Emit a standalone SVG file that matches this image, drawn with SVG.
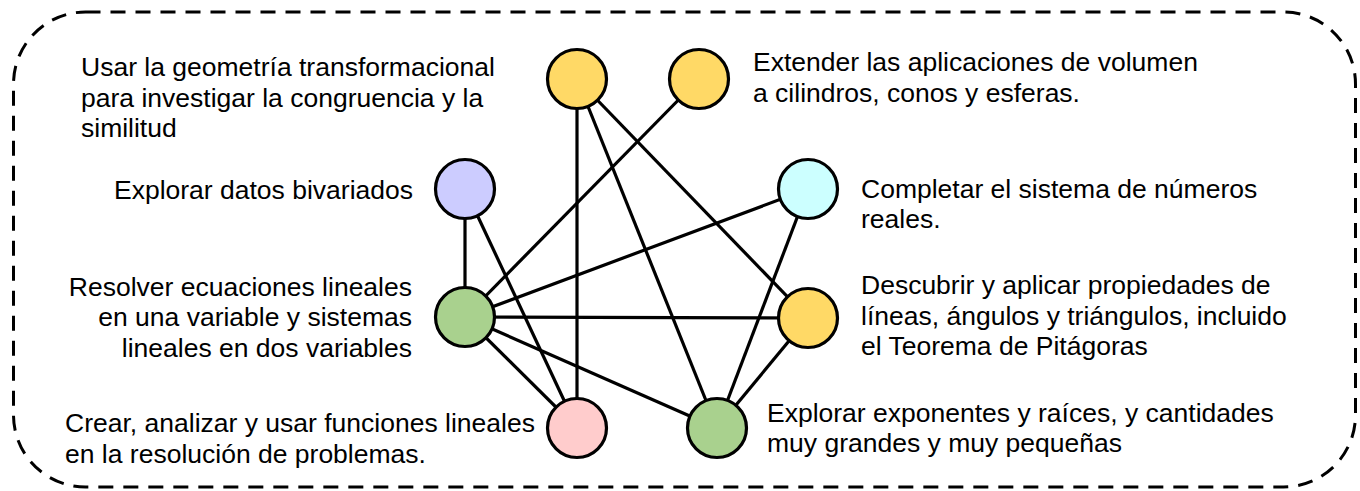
<svg xmlns="http://www.w3.org/2000/svg" width="1360" height="491" viewBox="0 0 1360 491">
<style>
text{font-family:"Liberation Sans",Arial,sans-serif;font-size:26.5px;fill:#000}
.n{stroke:#000;stroke-width:3.2}
.e line{stroke:#000;stroke-width:3.2}
.end{text-anchor:end}
</style>
<rect x="13.5" y="12" width="1342" height="475" rx="72" ry="72" fill="none" stroke="#000" stroke-width="3" stroke-dasharray="15 10"/>
<g id="connectors" class="e">
<line x1="577" y1="79" x2="577" y2="428"/>
<line x1="577" y1="79" x2="717" y2="428"/>
<line x1="577" y1="79" x2="808" y2="318"/>
<line x1="699" y1="79" x2="465" y2="317"/>
<line x1="465" y1="189" x2="465" y2="317"/>
<line x1="465" y1="189" x2="577" y2="428"/>
<line x1="808" y1="189" x2="465" y2="317"/>
<line x1="808" y1="189" x2="717" y2="428"/>
<line x1="465" y1="317" x2="808" y2="318"/>
<line x1="465" y1="317" x2="577" y2="428"/>
<line x1="465" y1="317" x2="717" y2="428"/>
<line x1="808" y1="318" x2="717" y2="428"/>
</g>
<g id="n1"><circle class="n" cx="577" cy="79" r="29.5" fill="#FFD966"/>
<text x="81" y="76">Usar la geometría transformacional</text>
<text x="81" y="107">para investigar la congruencia y la</text>
<text x="81" y="137">similitud</text></g>
<g id="n2"><circle class="n" cx="699" cy="79" r="29.5" fill="#FFD966"/>
<text x="753" y="71">Extender las aplicaciones de volumen</text>
<text x="753" y="102">a cilindros, conos y esferas.</text></g>
<g id="n3"><circle class="n" cx="465" cy="189" r="29.5" fill="#CCCCFF"/>
<text class="end" x="413" y="199">Explorar datos bivariados</text></g>
<g id="n4"><circle class="n" cx="808" cy="189" r="29.5" fill="#CCFFFF"/>
<text x="861" y="198">Completar el sistema de números</text>
<text x="861" y="228">reales.</text></g>
<g id="n5"><circle class="n" cx="465" cy="317" r="29.5" fill="#A9D18E"/>
<text class="end" x="412" y="296">Resolver ecuaciones lineales</text>
<text class="end" x="412" y="326">en una variable y sistemas</text>
<text class="end" x="412" y="357">lineales en dos variables</text></g>
<g id="n6"><circle class="n" cx="808" cy="318" r="29.5" fill="#FFD966"/>
<text x="861" y="294">Descubrir y aplicar propiedades de</text>
<text x="861" y="325">líneas, ángulos y triángulos, incluido</text>
<text x="861" y="355">el Teorema de Pitágoras</text></g>
<g id="n7"><circle class="n" cx="577" cy="428" r="29.5" fill="#FFCCCC"/>
<text x="65" y="432">Crear, analizar y usar funciones lineales</text>
<text x="65" y="463">en la resolución de problemas.</text></g>
<g id="n8"><circle class="n" cx="717" cy="428" r="29.5" fill="#A9D18E"/>
<text x="767" y="422">Explorar exponentes y raíces, y cantidades</text>
<text x="767" y="452">muy grandes y muy pequeñas</text></g>
</svg>
